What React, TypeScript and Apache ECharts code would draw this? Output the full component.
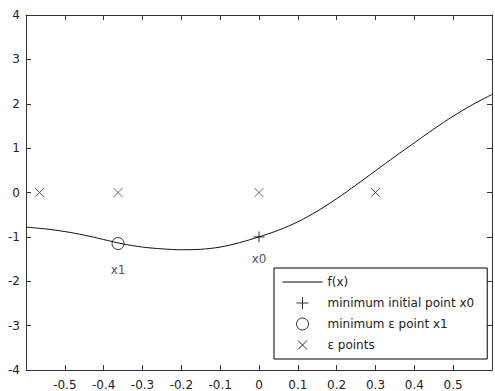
import React, { useEffect, useRef } from "react";
import * as echarts from "echarts";

// f(x) sampled from the reference curve
const curveX = [-0.6, -0.55, -0.5, -0.45, -0.4, -0.35, -0.3, -0.25, -0.2, -0.15, -0.1, -0.05, 0, 0.05, 0.1, 0.15, 0.2, 0.25, 0.3, 0.35, 0.4, 0.45, 0.5, 0.55, 0.6];
const curveY = [-0.78, -0.82, -0.88, -0.96, -1.06, -1.16, -1.23, -1.27, -1.29, -1.28, -1.23, -1.13, -1.0, -0.85, -0.66, -0.42, -0.14, 0.17, 0.49, 0.81, 1.12, 1.43, 1.72, 1.98, 2.21];

const x0Point = [0, -1.0];
const x1Point = [-0.363, -1.15];
const epsX = [-0.565, -0.363, 0, 0.3];
const epsY = [0, 0, 0, 0];

const xTicks = { min: -0.6, max: 0.6, interval: 0.1 };
const yTicks = { min: -4, max: 4, interval: 1 };

const seriesNames = ["f(x)", "minimum initial point x0", "minimum ε point x1", "ε points"];
const pointLabels = ["x0", "x1"];

const FONT = "DejaVu Sans";
const INK = "#222";
const CROSS = "path://M0 0L10 10M10 0L0 10";
const PLUS = "path://M5 0L5 10M0 5L10 5";
const CROSS_LEGEND = "path://M1.5 1.5L10.5 10.5M10.5 1.5L1.5 10.5M0 0M12 12";
const LINE_LEGEND = "path://M0 6L40 6M0 0M40 12";

export default function App() {
  const ref = useRef<HTMLDivElement>(null);
  useEffect(() => {
    if (!ref.current) return;
    const chart = echarts.init(ref.current, undefined, { renderer: "svg" });
    const fmtX = (v: number) => (Math.abs(Math.abs(v) - 0.6) < 1e-9 ? "" : String(+v.toFixed(1)));
    const axisCommon = {
      axisLine: { show: true, onZero: false, lineStyle: { color: "#333", width: 1 } },
      axisTick: { show: true, inside: true, length: 5, lineStyle: { color: "#333" } },
      splitLine: { show: false },
    };
    const stroke = { color: "#000", borderColor: "#000", borderWidth: 1 };
    chart.setOption({
      animation: false,
      backgroundColor: "#fff",
      grid: { left: 26, top: 15, width: 469, height: 358, containLabel: false },
      xAxis: [
        {
          type: "value", position: "bottom", ...xTicks, ...axisCommon,
          axisLabel: { show: true, margin: 9, fontFamily: FONT, fontSize: 12, color: INK, formatter: fmtX },
        },
        {
          type: "value", position: "top", ...xTicks, ...axisCommon,
          axisLabel: { show: false },
        },
      ],
      yAxis: [
        {
          type: "value", position: "left", ...yTicks, ...axisCommon,
          axisLabel: { show: true, margin: 6, fontFamily: FONT, fontSize: 12, color: INK },
        },
        {
          type: "value", position: "right", ...yTicks, ...axisCommon,
          axisLabel: { show: false },
        },
      ],
      legend: {
        orient: "vertical",
        left: 274,
        top: 268,
        padding: [7, 13, 7, 8],
        itemWidth: 40,
        itemHeight: 12,
        itemGap: 7,
        selectedMode: false,
        backgroundColor: "#fff",
        borderColor: "#000",
        borderWidth: 1,
        borderRadius: 0,
        textStyle: { fontFamily: FONT, fontSize: 12, color: INK, lineHeight: 14 },
        data: [
          { name: seriesNames[0], icon: LINE_LEGEND, itemStyle: stroke },
          { name: seriesNames[1], icon: PLUS, itemStyle: stroke },
          { name: seriesNames[2], icon: "circle", itemStyle: { color: "#fff", borderColor: "#000", borderWidth: 1 } },
          { name: seriesNames[3], icon: CROSS_LEGEND, itemStyle: stroke },
        ],
      },
      series: [
        {
          name: seriesNames[0],
          type: "line",
          data: curveX.map((x, i) => [x, curveY[i]]),
          symbol: "none",
          smooth: 0.3,
          lineStyle: { color: "#111", width: 1 },
          itemStyle: { color: "#111" },
          z: 2,
        },
        {
          name: seriesNames[1],
          type: "scatter",
          data: [x0Point],
          symbol: PLUS,
          symbolSize: 11,
          itemStyle: stroke,
          label: { show: true, formatter: pointLabels[0], position: "bottom", distance: 10, fontFamily: FONT, fontSize: 12, color: INK },
          z: 3,
        },
        {
          name: seriesNames[2],
          type: "scatter",
          data: [x1Point],
          symbol: "circle",
          symbolSize: 12,
          itemStyle: { color: "rgba(255,255,255,0)", borderColor: "#000", borderWidth: 1 },
          label: { show: true, formatter: pointLabels[1], position: "bottom", distance: 14, fontFamily: FONT, fontSize: 12, color: INK },
          z: 3,
        },
        {
          name: seriesNames[3],
          type: "scatter",
          data: epsX.map((x, i) => [x, epsY[i]]),
          symbol: CROSS,
          symbolSize: 9,
          itemStyle: { color: "#444", borderColor: "#444", borderWidth: 1 },
          z: 3,
        },
      ],
    });
    return () => chart.dispose();
  }, []);
  return (
    <div
      ref={ref}
      style={{ position: "absolute", left: 0, top: 0, width: 495, height: 391, background: "#fff" }}
    />
  );
}
